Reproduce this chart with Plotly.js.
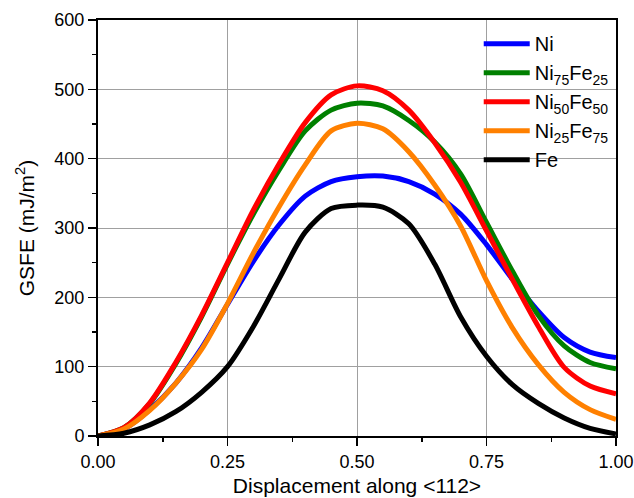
<!DOCTYPE html>
<html>
<head>
<meta charset="utf-8">
<script src="https://cdn.plot.ly/plotly-3.0.1.min.js"></script>
<style>html,body{margin:0;padding:0;background:#fff;}#chart{width:634px;height:498px;}</style>
</head>
<body>
<div id="chart"></div>
<script>
const displacement = [0, 0.05, 0.1, 0.15, 0.2, 0.25, 0.3, 0.35, 0.4, 0.45, 0.5, 0.55, 0.6, 0.65, 0.7, 0.75, 0.8, 0.85, 0.9, 0.95, 1.0];
const seriesNames = ["Ni", "Ni<sub>75</sub>Fe<sub>25</sub>", "Ni<sub>50</sub>Fe<sub>50</sub>", "Ni<sub>25</sub>Fe<sub>75</sub>", "Fe"];
const gsfeNi       = [0, 10, 38, 76, 127, 190, 252, 305, 346, 367, 374, 375, 367, 349, 320, 276, 226, 180, 142, 121, 113];
const gsfeNi75Fe25 = [0, 12, 47, 104, 172, 248, 320, 384, 440, 470, 480, 476, 455, 424, 378, 308, 238, 174, 130, 106, 97];
const gsfeNi50Fe50 = [0, 12, 48, 106, 174, 250, 326, 393, 452, 492, 505, 498, 470, 423, 366, 296, 226, 158, 99, 72, 61];
const gsfeNi25Fe75 = [0, 10, 37, 76, 125, 191, 264, 331, 391, 440, 451, 443, 410, 362, 303, 224, 156, 103, 63, 38, 24];
const gsfeFe       = [0, 4, 16, 35, 63, 100, 158, 227, 294, 328, 333, 330, 306, 248, 172, 115, 74, 47, 26, 11, 3];
const xTicks = [0, 0.25, 0.5, 0.75, 1.0];
const xTickLabels = ["0.00", "0.25", "0.50", "0.75", "1.00"];

const colors = ["#0000ff", "#008000", "#ff0000", "#ff8000", "#000000"];
const allY = [gsfeNi, gsfeNi75Fe25, gsfeNi50Fe50, gsfeNi25Fe75, gsfeFe];
const FONT = "Liberation Sans, Arial, sans-serif";

const traces = allY.map((y, i) => ({
  x: displacement,
  y: y,
  name: seriesNames[i],
  type: "scatter",
  mode: "lines",
  line: {color: colors[i], width: 5, shape: "spline", smoothing: 0.8}
}));

const axisCommon = {
  showline: true, linecolor: "#000", linewidth: 2, mirror: true,
  ticks: "outside", ticklen: 8, tickwidth: 1.5, tickcolor: "#000",
  showgrid: true, gridcolor: "#a0a0a0", gridwidth: 1,
  zeroline: false,
  tickfont: {family: FONT, size: 18, color: "#000"}
};

const layout = {
  width: 634, height: 498,
  margin: {l: 98, r: 18, t: 20, b: 62},
  paper_bgcolor: "#fff", plot_bgcolor: "#fff",
  font: {family: FONT, color: "#000"},
  showlegend: true,
  legend: {
    x: 0.735, y: 0.99, xanchor: "left", yanchor: "top",
    bgcolor: "rgba(0,0,0,0)", borderwidth: 0,
    itemwidth: 46,
    font: {family: FONT, size: 20, color: "#000"},
    tracegroupgap: 0
  },
  xaxis: Object.assign({}, axisCommon, {
    range: [0, 1], tickvals: xTicks, ticktext: xTickLabels,
    minor: {dtick: 0.125, tick0: 0, ticks: "outside", ticklen: 4, tickcolor: "#000", tickwidth: 1.5, showgrid: false},
    title: {text: "Displacement along &lt;112&gt;", font: {size: 21, family: FONT}, standoff: 8}
  }),
  yaxis: Object.assign({}, axisCommon, {
    range: [0, 600], dtick: 100, tick0: 0,
    minor: {dtick: 50, tick0: 0, ticks: "outside", ticklen: 4, tickcolor: "#000", tickwidth: 1.5, showgrid: false},
    title: {text: "GSFE (mJ/m<sup>2</sup>)", font: {size: 21, family: FONT}, standoff: 14}
  })
};

Plotly.newPlot("chart", traces, layout, {displayModeBar: false, staticPlot: true});
</script>
</body>
</html>
